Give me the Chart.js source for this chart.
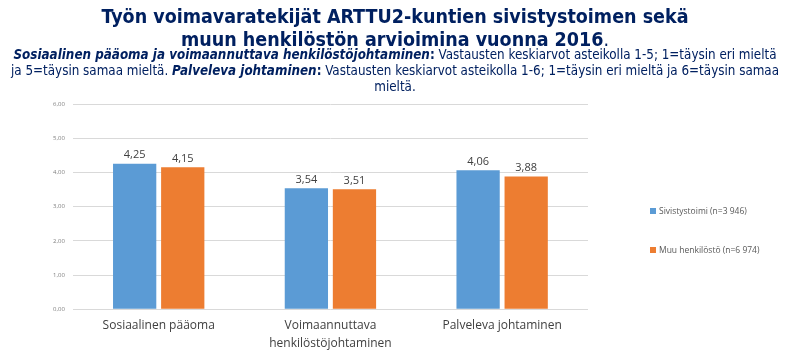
<!DOCTYPE html>
<html>
<head>
<meta charset="utf-8">
<script src="https://cdn.jsdelivr.net/npm/chart.js@4"></script>
<style>
  body { margin: 0; background: #fff; }
  #wrap { position: relative; width: 790px; height: 352px; overflow: hidden; }
  #title { position: absolute; left: 0; top: 5px; width: 790px; text-align: center;
    font-family: "DejaVu Sans Condensed", "DejaVu Sans", sans-serif; font-weight: bold;
    font-size: 19.5px; line-height: 23px; color: #002060; }
  #sub { position: absolute; left: 0; top: 47px; width: 790px; text-align: center; white-space: nowrap;
    font-family: "DejaVu Sans Condensed", "DejaVu Sans", sans-serif;
    font-size: 13.3px; line-height: 16px; color: #002060; }
  #legend { position: absolute; left: 650px; top: 205px; font-family: "Open Sans", sans-serif;
    font-size: 8.5px; color: #595959; }
  #legend div { height: 39px; }
  #legend span.box { display: inline-block; width: 6px; height: 6px; margin-right: 3px; }
  canvas { position: absolute; left: 0; top: 0; }
</style>
</head>
<body>
<div id="wrap">
  <canvas id="chart" width="790" height="352"></canvas>
  <div id="title">Työn voimavaratekijät ARTTU2-kuntien sivistystoimen sekä<br>muun henkilöstön arvioimina vuonna 2016<span style="font-weight:normal">.</span></div>
  <div id="sub"><b><i>Sosiaalinen pääoma ja voimaannuttava henkilöstöjohtaminen</i>:</b> Vastausten keskiarvot asteikolla 1-5; 1=täysin eri mieltä<br>ja 5=täysin samaa mieltä. <b><i>Palveleva johtaminen</i>:</b> Vastausten keskiarvot asteikolla 1-6; 1=täysin eri mieltä ja 6=täysin samaa<br>mieltä.</div>
  <div id="legend"></div>
</div>
<script>
const categories = ['Sosiaalinen pääoma', ['Voimaannuttava', 'henkilöstöjohtaminen'], 'Palveleva johtaminen'];
const seriesNames = ['Sivistystoimi (n=3 946)', 'Muu henkilöstö (n=6 974)'];
const sivistystoimi = [4.25, 3.54, 4.06];
const muuHenkilosto = [4.15, 3.51, 3.88];
const colors = ['#5B9BD5', '#ED7D31'];

const fi = v => v.toFixed(2).replace('.', ',');

// arvot pylväiden päälle
const valueLabels = {
    id: 'valueLabels',
    afterDatasetsDraw(chart) {
        const ctx = chart.ctx;
        ctx.save();
        ctx.font = '11px "Open Sans", sans-serif';
        ctx.fillStyle = '#404040';
        ctx.textAlign = 'center';
        ctx.textBaseline = 'bottom';
        chart.data.datasets.forEach((ds, i) => {
            chart.getDatasetMeta(i).data.forEach((bar, j) => {
                ctx.fillText(fi(ds.data[j]), bar.x, bar.y - 3);
            });
        });
        ctx.restore();
    }
};

const ctx = document.getElementById('chart').getContext('2d');
new Chart(ctx, {
    type: 'bar',
    data: {
        labels: categories,
        datasets: [
            { label: seriesNames[0], data: sivistystoimi, backgroundColor: colors[0] },
            { label: seriesNames[1], data: muuHenkilosto, backgroundColor: colors[1] }
        ]
    },
    options: {
        responsive: false,
        animation: false,
        layout: { padding: { left: 45, top: 104, right: 202, bottom: 0 } },
        plugins: { legend: { display: false }, tooltip: { enabled: false } },
        datasets: { bar: { categoryPercentage: 0.56, barPercentage: 0.9 } },
        scales: {
            x: {
                grid: { display: false },
                border: { display: false },
                ticks: { font: { family: 'Open Sans', size: 12, lineHeight: 1.45 }, color: '#404040', padding: 0 }
            },
            y: {
                min: 0, max: 6,
                ticks: { stepSize: 1, callback: v => fi(v), font: { family: 'Open Sans', size: 6 }, color: '#808080', padding: 8 },
                grid: { color: '#D9D9D9', drawTicks: false },
                border: { display: false }
            }
        }
    },
    plugins: [valueLabels]
});

document.getElementById('legend').innerHTML = seriesNames.map((n, i) =>
    `<div><span class="box" style="background:${colors[i]}"></span>${n}</div>`).join('');
</script>
</body>
</html>
